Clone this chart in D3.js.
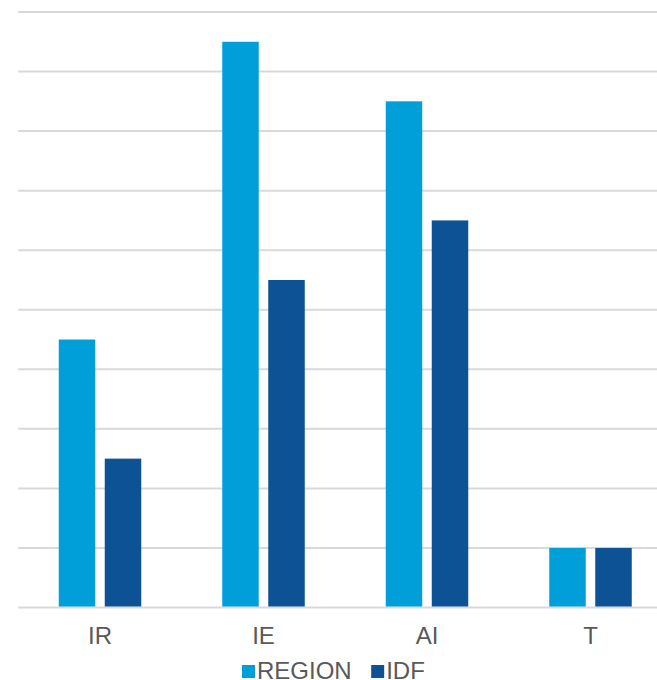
<!DOCTYPE html>
<html><head><meta charset="utf-8">
<script src="https://cdn.jsdelivr.net/npm/d3@7"></script>
<style>html,body{margin:0;padding:0;background:#fff;}svg{display:block;}</style>
</head><body>
<svg id="chart" width="657" height="680"></svg>
<script>
const categories = ["IR", "IE", "AI", "T"];
const seriesNames = ["REGION", "IDF"];
const regionValues = [4.5, 9.5, 8.5, 1];
const idfValues = [2.5, 5.5, 6.5, 1];
const yTicks = [0,1,2,3,4,5,6,7,8,9,10];
const colors = ["#009FDA", "#0D5295"];

const svg = d3.select("#chart");
const x0 = 18.25, x1 = 672.25, yTop = 12, yBot = 607.5;
const x = d3.scaleBand().domain(categories).range([x0, x1]).paddingInner(0).paddingOuter(0);
const y = d3.scaleLinear().domain([0, 10]).range([yBot, yTop]);
const groupW = 82.5;
const xs = d3.scaleBand().domain(seriesNames).range([0, groupW]).paddingInner(9.5/46).paddingOuter(0);

// gridlines
svg.append("g").selectAll("line").data(yTicks).join("line")
  .attr("x1", x0).attr("x2", 657)
  .attr("y1", d => y(d)).attr("y2", d => y(d))
  .attr("stroke", "#D9D9D9").attr("stroke-width", 2);

const data = categories.map((c, i) => ({cat: c, vals: [regionValues[i], idfValues[i]]}));
const g = svg.append("g").selectAll("g").data(data).join("g")
  .attr("transform", d => `translate(${x(d.cat) + (x.bandwidth() - groupW) / 2},0)`);
g.selectAll("rect").data(d => d.vals.map((v, j) => ({s: seriesNames[j], v, j}))).join("rect")
  .attr("x", d => xs(d.s)).attr("width", xs.bandwidth())
  .attr("y", d => y(d.v)).attr("height", d => yBot - 1 - y(d.v))
  .attr("fill", d => colors[d.j]);

// x axis labels
const xAxis = d3.axisBottom(x).tickSize(0).tickPadding(0);
const ax = svg.append("g").attr("transform", `translate(0,${yBot})`).call(xAxis);
ax.select(".domain").remove();
ax.selectAll("text").attr("dy", null).attr("y", 36.8)
  .attr("font-family", "Liberation Sans, Arial, sans-serif").attr("font-size", 24).attr("fill", "#595959");

// legend
const leg = svg.append("g");
const items = leg.selectAll("g").data(seriesNames).join("g");
items.append("rect").attr("width", 13).attr("height", 13).attr("y", -14).attr("fill", (d, i) => colors[i]);
items.append("text").attr("x", 15).attr("y", 0).text(d => d)
  .attr("font-family", "Liberation Sans, Arial, sans-serif").attr("font-size", 24).attr("fill", "#595959");
let cx = 0;
const widths = [];
items.each(function(d){ const w = 15 + d3.select(this).select("text").node().getComputedTextLength(); widths.push(w); });
const gap = 19.5;
items.attr("transform", (d, i) => { const t = `translate(${cx},0)`; cx += widths[i] + gap; return t; });
leg.attr("transform", `translate(242,679)`);
</script>
</body></html>
